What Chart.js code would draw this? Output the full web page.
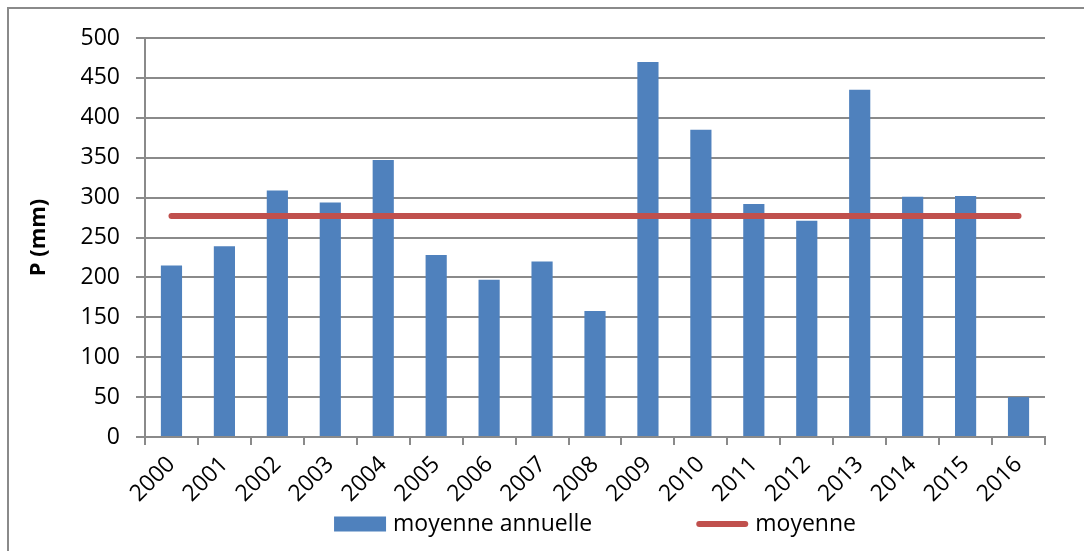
<!DOCTYPE html>
<html>
<head>
<meta charset="utf-8">
<script src="https://cdn.jsdelivr.net/npm/chart.js@4"></script>
<style>
  body { margin: 0; background: #fff; }
  #wrap { width: 1084px; height: 551px; position: relative; }
</style>
</head>
<body>
<div id="wrap"><canvas id="mychart"></canvas></div>
<script>
const years = ['2000', '2001', '2002', '2003', '2004', '2005', '2006', '2007', '2008',
    '2009', '2010', '2011', '2012', '2013', '2014', '2015', '2016'];
const annual = [215, 239, 309, 294, 347, 228, 197, 220, 158, 470, 385, 292, 271, 435, 301, 302, 50];
const mean = [277, 277, 277, 277, 277, 277, 277, 277, 277, 277, 277, 277, 277, 277, 277, 277, 277];
const yTicks = [0, 50, 100, 150, 200, 250, 300, 350, 400, 450, 500];

const FONT = '"Open Sans", "Liberation Sans", sans-serif';
const BLUE = '#4f81bd';
const RED = '#c0504d';
const GRID = '#8a8a8a';

// outer frame + bottom legend
const frameLegend = {
    id: 'frameLegend',
    beforeDraw(chart) {
        const c = chart.ctx;
        c.save();
        c.strokeStyle = GRID;
        c.lineWidth = 2;
        c.beginPath();
        c.moveTo(8, chart.height);
        c.lineTo(8, 8);
        c.lineTo(chart.width, 8);
        c.stroke();
        c.restore();
    },
    afterDraw(chart) {
        const c = chart.ctx;
        const area = chart.chartArea;
        const items = chart.data.datasets.map(d => d.label);
        c.save();
        c.font = '23px ' + FONT;
        c.textBaseline = 'middle';
        c.fillStyle = '#000';
        const box = 52, gap = 7, spacing = 104;
        const widths = items.map(t => box + gap + c.measureText(t).width);
        const total = widths.reduce((a, b) => a + b, 0) + spacing;
        let x = (area.left + area.right) / 2 - total / 2;
        const y = 524;
        chart.data.datasets.forEach((d, i) => {
            if (d.type === 'line') {
                c.strokeStyle = RED;
                c.lineWidth = 6;
                c.lineCap = 'round';
                c.beginPath();
                c.moveTo(x + 3, y);
                c.lineTo(x + box - 3, y);
                c.stroke();
            } else {
                c.fillStyle = BLUE;
                c.fillRect(x, y - 7.5, box, 15);
            }
            c.fillStyle = '#000';
            c.fillText(d.label, x + box + gap, y);
            x += widths[i] + spacing;
        });
        c.restore();
    }
};

const ctx = document.getElementById('mychart');

new Chart(ctx, {
    data: {
        labels: years,
        datasets: [{
            type: 'bar',
            label: 'moyenne annuelle',
            data: annual,
            backgroundColor: BLUE,
            barPercentage: 0.4,
            categoryPercentage: 1,
            order: 1
        }, {
            type: 'line',
            label: 'moyenne',
            data: mean,
            borderColor: RED,
            borderWidth: 6,
            borderCapStyle: 'round',
            pointRadius: 0,
            fill: false,
            order: 0
        }]
    },
    options: {
        responsive: true,
        maintainAspectRatio: false,
        animation: false,
        layout: { padding: { top: 38, right: 39, left: 0, bottom: 0 } },
        plugins: {
            legend: { display: false },
            tooltip: { enabled: false },
            title: { display: false }
        },
        scales: {
            x: {
                offset: true,
                grid: {
                    offset: true,
                    drawOnChartArea: false,
                    drawTicks: true,
                    tickLength: 8,
                    color: GRID,
                    lineWidth: 2
                },
                border: { color: GRID, width: 2 },
                ticks: {
                    color: '#000',
                    font: { family: FONT, size: 23 },
                    minRotation: 45,
                    maxRotation: 45,
                    padding: 6,
                    autoSkip: false
                },
                afterFit(scale) { scale.height = 114; }
            },
            y: {
                min: 0,
                max: 500,
                afterBuildTicks(scale) { scale.ticks = yTicks.map(v => ({ value: v })); },
                grid: {
                    color: GRID,
                    lineWidth: 2,
                    tickLength: 9
                },
                border: { color: GRID, width: 2 },
                ticks: {
                    color: '#000',
                    font: { family: FONT, size: 23 },
                    padding: 16
                },
                title: {
                    display: true,
                    text: 'P (mm)',
                    color: '#000',
                    font: { family: FONT, size: 22, weight: 'bold' },
                    padding: { top: 26, bottom: 0 }
                },
                afterFit(scale) { scale.width = 145; }
            }
        }
    },
    plugins: [frameLegend]
});
</script>
</body>
</html>
